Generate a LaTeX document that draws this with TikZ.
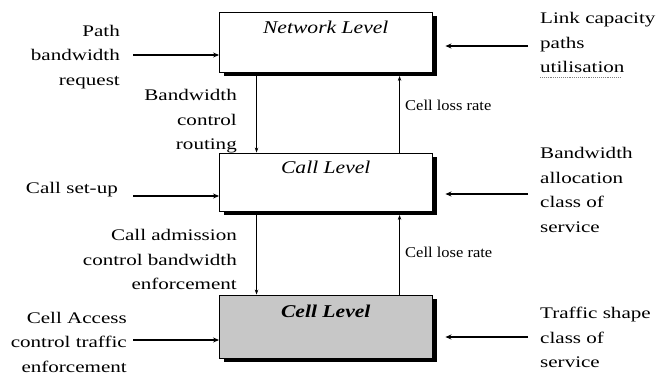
\documentclass[tikz,border=0pt]{standalone}
\usepackage{fontspec}
\setmainfont{Liberation Serif}
\usetikzlibrary{arrows.meta,shadows}
% wide serif text blocks, right- or left-aligned
\newcommand\rblock[1]{\scalebox{1.3}[1]{\begin{tabular}{@{}r@{}}#1\end{tabular}}}
\newcommand\lblock[1]{\scalebox{1.3}[1]{\begin{tabular}{@{}l@{}}#1\end{tabular}}}
\newcommand\levelword[1]{\scalebox{1.2}[1]{#1}}
\newcommand\rateword[1]{\scalebox{1.1}[1]{#1}}

\begin{document}
\begin{tikzpicture}[x=1pt,y=-1pt,
  levelbox/.style={draw=black, line width=0.9pt, inner sep=0pt,
    minimum width=212.5pt,
    drop shadow={shadow xshift=4.5pt, shadow yshift=-3.5pt, fill=black, opacity=1}},
  levelname/.style={inner sep=0pt, anchor=base, font=\fontsize{18}{20}\selectfont\itshape},
  sidetext/.style={inner sep=0pt, font=\fontsize{16.2}{24.5}\selectfont},
  lefttext/.style={sidetext, anchor=east},
  righttext/.style={sidetext, anchor=west},
  ratetext/.style={inner sep=0pt, anchor=base west, font=\fontsize{15}{17}\selectfont},
  harrow/.style={line width=1.8pt, -{Stealth[length=6pt,width=5pt]}},
  varrow/.style={line width=0.7pt, -{Stealth[length=5pt,width=3.5pt]}}
]
\useasboundingbox (0,0) rectangle (662,378);

% the three control levels
\node[levelbox, minimum height=60pt, fill=white] (net) at (325.75,42) {};
\node[levelbox, minimum height=58pt, fill=white] (call) at (325.75,182) {};
\node[levelbox, minimum height=63pt, fill=black!22] (cell) at (325.75,326.5) {};

\node[levelname] (netname) at (325.75,33) {\levelword{Network Level}};
\node[levelname] (callname) at (325.75,173) {\levelword{Call Level}};
\node[levelname, font=\fontsize{18}{20}\selectfont\bfseries\itshape] (cellname) at (325.75,317) {\levelword{Cell Level}};

% signals passed down and up between the levels
\draw[varrow] ([xshift=37.5pt]net.south west) -- ([xshift=37.5pt]call.north west);
\draw[varrow, shorten >=3.5pt] ([xshift=180.5pt]call.north west) -- ([xshift=180.5pt]net.south west);
\draw[varrow] ([xshift=37.5pt]call.south west) -- ([xshift=37.5pt]cell.north west);
\draw[varrow, shorten >=3.5pt] ([xshift=180.5pt]cell.north west) -- ([xshift=180.5pt]call.south west);

\node[ratetext] (lossrate) at (405,110) {\rateword{Cell loss rate}};
\node[ratetext] (loserate) at (405,257) {\rateword{Cell lose rate}};

% inputs on the left
\node[lefttext] (pathreq) at (120,55.6) {\rblock{Path\\bandwidth\\request}};
\node[lefttext] (bwroute) at (237,120.5) {\rblock{Bandwidth\\control\\routing}};
\node[lefttext] (setup) at (118,189) {\rblock{Call set-up}};
\node[lefttext] (admission) at (237,260.5) {\rblock{Call admission\\control bandwidth\\enforcement}};
\node[lefttext] (access) at (127,343) {\rblock{Cell Access\\control traffic\\enforcement}};

\coordinate (inA) at (133,55);
\coordinate (inB) at (133,196);
\coordinate (inC) at (133,340);
\draw[harrow] (inA) -- (inA -| net.west);
\draw[harrow] (inB) -- (inB -| call.west);
\draw[harrow] (inC) -- (inC -| cell.west);

% inputs on the right
\node[righttext] (linkcap) at (540,43.5) {\lblock{Link capacity\\paths\\utilisation}};
\draw[gray, densely dotted, line width=0.9pt] ([yshift=3pt]linkcap.south west) -- ++(80,0);
\node[righttext] (bwalloc) at (540,190.8) {\lblock{Bandwidth\\allocation\\class of\\service}};
\node[righttext] (shape) at (540,338.5) {\lblock{Traffic shape\\class of\\service}};

\coordinate (inD) at (528,46);
\coordinate (inE) at (528,194);
\coordinate (inF) at (528,337);
\draw[harrow, shorten >=13pt] (inD) -- (inD -| net.east);
\draw[harrow, shorten >=13pt] (inE) -- (inE -| call.east);
\draw[harrow, shorten >=13pt] (inF) -- (inF -| cell.east);
\end{tikzpicture}
\end{document}
